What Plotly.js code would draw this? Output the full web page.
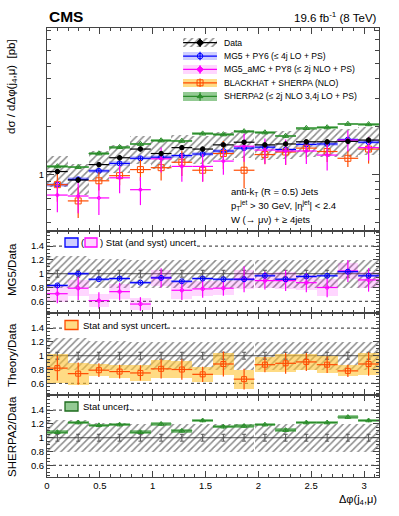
<!DOCTYPE html>
<html>
<head>
<meta charset="utf-8">
<script src="https://cdn.plot.ly/plotly-3.0.1.min.js"></script>
<style>
  html, body { margin: 0; padding: 0; background: #fff; }
  #graph { width: 399px; height: 516px; }
</style>
</head>
<body>
<div id="graph"></div>
<script>
// ---------- DATA ----------
// 16 bins in delta phi(j4, mu) from 0 to pi
const binCenters = [0.098, 0.295, 0.491, 0.687, 0.884, 1.080, 1.276, 1.473,
                    1.669, 1.865, 2.062, 2.258, 2.454, 2.651, 2.847, 3.043];
const binHalf = 0.098;

// main panel, dsigma/ddphi [pb]
const dataXsec   = [1.04, 0.92, 1.15, 1.27, 1.44, 1.35, 1.47, 1.44, 1.53, 1.59, 1.53, 1.55, 1.60, 1.60, 1.61, 1.64];
const dataStat   = [0.04, 0.04, 0.04, 0.05, 0.05, 0.05, 0.05, 0.05, 0.05, 0.05, 0.05, 0.05, 0.06, 0.06, 0.06, 0.06];
const dataSystHi = [0.26, 0.26, 0.22, 0.21, 0.20, 0.20, 0.20, 0.20, 0.20, 0.20, 0.20, 0.20, 0.20, 0.20, 0.20, 0.20];
const dataSystLo = [0.20, 0.20, 0.20, 0.20, 0.20, 0.20, 0.20, 0.20, 0.20, 0.20, 0.20, 0.20, 0.20, 0.20, 0.20, 0.20];

const mg5Xsec = [0.86, 0.93, 1.05, 1.17, 1.26, 1.28, 1.31, 1.34, 1.40, 1.46, 1.48, 1.43, 1.54, 1.55, 1.65, 1.59];
const mg5Stat = [0.03, 0.03, 0.03, 0.03, 0.03, 0.03, 0.03, 0.03, 0.03, 0.03, 0.03, 0.03, 0.03, 0.03, 0.03, 0.03];

const amcXsec = [0.74, 0.73, 0.71, 0.95, 0.80, 1.25, 1.12, 1.12, 1.21, 1.50, 1.42, 1.40, 1.40, 1.32, 1.64, 1.47];
const amcStat = [0.22, 0.22, 0.22, 0.20, 0.20, 0.18, 0.20, 0.20, 0.18, 0.20, 0.18, 0.18, 0.17, 0.20, 0.15, 0.17];

const bhXsec = [0.86, 0.68, 0.91, 0.98, 1.07, 1.10, 1.19, 1.06, 1.35, 1.06, 1.33, 1.38, 1.46, 1.39, 1.26, 1.44];
const bhStat = [0.22, 0.22, 0.13, 0.13, 0.15, 0.17, 0.18, 0.15, 0.20, 0.23, 0.13, 0.17, 0.14, 0.14, 0.12, 0.19];

const sh2Xsec = [1.12, 1.11, 1.35, 1.48, 1.55, 1.63, 1.62, 1.80, 1.78, 1.86, 1.83, 1.74, 1.95, 1.97, 2.07, 2.06];
const sh2Stat = [0.02, 0.02, 0.02, 0.02, 0.02, 0.02, 0.02, 0.02, 0.02, 0.02, 0.02, 0.02, 0.02, 0.02, 0.02, 0.02];

// ratio panels (theory / data)
const dataRatioStat = [0.05, 0.05, 0.05, 0.05, 0.05, 0.05, 0.05, 0.05, 0.05, 0.05, 0.05, 0.05, 0.05, 0.05, 0.05, 0.05];

const mg5Ratio    = [0.83, 1.00, 0.92, 0.93, 0.87, 0.94, 0.89, 0.93, 0.92, 0.92, 0.97, 0.92, 0.96, 0.97, 1.03, 0.97];
const mg5RatioErr = [0.02, 0.02, 0.02, 0.02, 0.02, 0.02, 0.02, 0.02, 0.02, 0.02, 0.02, 0.02, 0.02, 0.02, 0.02, 0.02];

const amcRatio     = [0.71, 0.79, 0.61, 0.74, 0.56, 0.94, 0.76, 0.78, 0.79, 0.92, 0.90, 0.90, 0.87, 0.80, 1.04, 0.91];
const amcRatioStat = [0.14, 0.17, 0.12, 0.13, 0.10, 0.14, 0.14, 0.13, 0.11, 0.19, 0.13, 0.15, 0.14, 0.14, 0.16, 0.17];
const amcRatioBand = [0.12, 0.12, 0.10, 0.11, 0.09, 0.12, 0.12, 0.11, 0.10, 0.14, 0.11, 0.12, 0.11, 0.12, 0.11, 0.12];

const bhRatio     = [0.82, 0.74, 0.79, 0.77, 0.75, 0.81, 0.80, 0.73, 0.88, 0.66, 0.87, 0.89, 0.91, 0.87, 0.78, 0.88];
const bhRatioStat = [0.18, 0.16, 0.10, 0.10, 0.11, 0.14, 0.15, 0.11, 0.18, 0.15, 0.11, 0.15, 0.13, 0.12, 0.09, 0.17];
const bhRatioBand = [0.21, 0.16, 0.09, 0.10, 0.11, 0.13, 0.13, 0.11, 0.16, 0.14, 0.11, 0.13, 0.12, 0.12, 0.08, 0.16];

const sh2Ratio    = [1.08, 1.22, 1.18, 1.19, 1.08, 1.20, 1.10, 1.25, 1.16, 1.17, 1.19, 1.11, 1.22, 1.22, 1.30, 1.25];
const sh2RatioErr = [0.025, 0.025, 0.025, 0.025, 0.025, 0.025, 0.025, 0.025, 0.025, 0.025, 0.025, 0.025, 0.025, 0.025, 0.025, 0.025];

const legendLabels = ["Data", "MG5 + PY6 (≤ 4j LO + PS)", "MG5_aMC + PY8 (≤ 2j NLO + PS)",
                      "BLACKHAT + SHERPA (NLO)", "SHERPA2 (≤ 2j NLO 3,4j LO + PS)"];

// ---------- STYLE ----------
const FONT = "Liberation Sans, Arial, Helvetica, sans-serif";
const BLUE = "#0000ff", BLUE_BAND = "rgba(60,60,255,0.25)";
const MAG = "#ff00ff", MAG_BAND = "rgba(255,0,255,0.16)";
const ORA = "#ff4b00", ORA_BAND = "rgba(255,195,50,0.6)";
const GRN = "#2a8c2a", GRN_BAND = "rgba(40,150,40,0.5)";
const HATCH = "#1a1a1a";

// pixel -> paper helpers (399x516 page)
const W = 399, H = 516, ML = 47, MR = 20, MT = 28, MB = 39;
const px = x => (x - ML) / (W - ML - MR);
const py = y => (H - MB - y) / (H - MT - MB);

const widths = binCenters.map(() => 2 * binHalf);
const ones = binCenters.map(() => 1);

// ---------- TRACE BUILDERS ----------
function hatchBand(xa, ya, lo, hi, color) {
  return {
    type: "bar", x: binCenters, base: lo, y: hi.map((h, i) => h - lo[i]), width: widths,
    xaxis: xa, yaxis: ya, hoverinfo: "skip", showlegend: false,
    marker: { color: "rgba(0,0,0,0)", line: { width: 0 },
      pattern: { shape: "/", fgcolor: color, bgcolor: "rgba(0,0,0,0)", size: 5, solidity: 0.3, fillmode: "overlay" } }
  };
}

function fillBand(xa, ya, lo, hi, fill) {
  return {
    type: "bar", x: binCenters, base: lo, y: hi.map((h, i) => h - lo[i]), width: widths,
    xaxis: xa, yaxis: ya, hoverinfo: "skip", showlegend: false,
    marker: { color: fill, line: { width: 0 } }
  };
}

function cross(xa, ya, y, err, color, symbol, size) {
  return {
    type: "scatter", mode: "markers", x: binCenters, y: y, xaxis: xa, yaxis: ya,
    hoverinfo: "skip", showlegend: false,
    error_x: { type: "constant", value: binHalf, width: 0, color: color, thickness: 1.2 },
    error_y: { type: "data", array: err, width: 0, color: color, thickness: 1.2 },
    marker: { symbol: symbol, size: size, color: color, line: { color: color, width: 1 } }
  };
}

function dataRatioBars(xa, ya) {
  return {
    type: "scatter", mode: "markers", x: binCenters, y: ones, xaxis: xa, yaxis: ya,
    hoverinfo: "skip", showlegend: false,
    marker: { size: 1, color: "rgba(0,0,0,0)" },
    error_y: { type: "data", array: dataRatioStat, width: 2, color: "#555", thickness: 1 }
  };
}

const rel = (v, e) => v.map((x, i) => x * e[i]);
const lower = (v, e) => v.map((x, i) => x * (1 - e[i]));
const upper = (v, e) => v.map((x, i) => x * (1 + e[i]));
const minus = (v, e) => v.map((x, i) => x - e[i]);
const plus = (v, e) => v.map((x, i) => x + e[i]);

const traces = [];

// ---------- MAIN PANEL ----------
traces.push(hatchBand("x", "y", lower(dataXsec, dataSystLo), upper(dataXsec, dataSystHi), HATCH));
traces.push(fillBand("x", "y", lower(mg5Xsec, mg5Stat), upper(mg5Xsec, mg5Stat), BLUE_BAND));
traces.push(fillBand("x", "y", lower(sh2Xsec, sh2Stat), upper(sh2Xsec, sh2Stat), GRN_BAND));
traces.push(cross("x", "y", sh2Xsec, rel(sh2Xsec, sh2Stat), GRN, "triangle-up-open", 5.5));
traces.push(cross("x", "y", mg5Xsec, rel(mg5Xsec, mg5Stat), BLUE, "circle-open", 5));
traces.push(cross("x", "y", bhXsec, rel(bhXsec, bhStat), ORA, "square-open", 6));
traces.push(cross("x", "y", amcXsec, rel(amcXsec, amcStat), MAG, "circle-open", 3));
traces.push(cross("x", "y", dataXsec, dataStat, "#000", "circle", 4.5));

// ---------- MG5 / DATA ----------
traces.push(hatchBand("x2", "y2", dataSystLo.map(e => 1 - e), dataSystHi.map(e => 1 + e), HATCH));
traces.push(fillBand("x2", "y2", minus(amcRatio, amcRatioBand), plus(amcRatio, amcRatioBand), MAG_BAND));
traces.push(fillBand("x2", "y2", minus(mg5Ratio, mg5RatioErr), plus(mg5Ratio, mg5RatioErr), BLUE_BAND));
traces.push(dataRatioBars("x2", "y2"));
traces.push(cross("x2", "y2", amcRatio, amcRatioStat, MAG, "circle-open", 3.5));
traces.push(cross("x2", "y2", mg5Ratio, mg5RatioErr, BLUE, "circle-open", 5));

// ---------- THEORY / DATA ----------
traces.push(hatchBand("x3", "y3", dataSystLo.map(e => 1 - e), dataSystHi.map(e => 1 + e), HATCH));
traces.push(fillBand("x3", "y3", minus(bhRatio, bhRatioBand), plus(bhRatio, bhRatioBand), ORA_BAND));
traces.push(dataRatioBars("x3", "y3"));
traces.push(cross("x3", "y3", bhRatio, bhRatioStat, ORA, "square-open", 5));

// ---------- SHERPA2 / DATA ----------
traces.push(hatchBand("x4", "y4", dataSystLo.map(e => 1 - e), dataSystHi.map(e => 1 + e), HATCH));
traces.push(fillBand("x4", "y4", minus(sh2Ratio, sh2RatioErr), plus(sh2Ratio, sh2RatioErr), GRN_BAND));
traces.push(dataRatioBars("x4", "y4"));
traces.push(cross("x4", "y4", sh2Ratio, sh2RatioErr, GRN, "triangle-up-open", 5));

// ---------- MAIN LEGEND (own hidden axes over the main panel) ----------
const legX = 0.461, legHalfW = 0.051, legHalfH = 0.021;
const legRows = [42.7, 56.1, 69.4, 82.8, 96.4].map(y => (231 - y) / 203);
const legStyle = [
  { color: "#000", symbol: "diamond", size: 5.5, band: null },
  { color: BLUE, symbol: "circle-open", size: 5.5, band: BLUE_BAND },
  { color: MAG, symbol: "diamond", size: 5, band: MAG_BAND },
  { color: ORA, symbol: "square-open", size: 6, band: ORA_BAND },
  { color: GRN, symbol: "triangle-up", size: 5, band: GRN_BAND }
];
legendLabels.forEach((lab, i) => {
  const s = legStyle[i], yc = legRows[i];
  traces.push({
    type: "bar", x: [legX], base: [yc - legHalfH], y: [2 * legHalfH], width: [2 * legHalfW],
    xaxis: "x5", yaxis: "y5", hoverinfo: "skip", showlegend: false,
    marker: s.band ? { color: s.band, line: { width: 0 } }
      : { color: "rgba(0,0,0,0)", line: { width: 0 },
          pattern: { shape: "/", fgcolor: HATCH, bgcolor: "rgba(0,0,0,0)", size: 5, solidity: 0.3, fillmode: "overlay" } }
  });
  traces.push({
    type: "scatter", mode: "markers", x: [legX], y: [yc], xaxis: "x5", yaxis: "y5",
    hoverinfo: "skip", showlegend: false,
    error_x: { type: "constant", value: legHalfW, width: 0, color: s.color, thickness: 1.2 },
    error_y: { type: "constant", value: legHalfH, width: 0, color: s.color, thickness: 1.2 },
    marker: { symbol: s.symbol, size: s.size, color: s.color, line: { color: s.color, width: 1 } }
  });
});

// ---------- AXES ----------
const frame = { showline: true, linecolor: "#444", linewidth: 1, mirror: "allticks", zeroline: false, showgrid: false };
function xAxis(anchor, labels) {
  return Object.assign({}, frame, {
    anchor: anchor, range: [0, Math.PI], ticks: "inside", ticklen: 6, tickcolor: "#444",
    tickmode: "array", tickvals: [0, 0.5, 1, 1.5, 2, 2.5, 3],
    showticklabels: labels, tickfont: { family: FONT, size: 9.5, color: "#000" },
    minor: { ticks: "inside", ticklen: 3, dtick: 0.1, tick0: 0, tickcolor: "#444" }
  });
}
function ratioAxis(domain, anchor) {
  return Object.assign({}, frame, {
    domain: domain, anchor: anchor, range: [0.43, 1.62], ticks: "inside", ticklen: 6, tickcolor: "#444",
    tickmode: "array", tickvals: [0.6, 0.8, 1, 1.2, 1.4], ticktext: ["0.6", "0.8", "1", "1.2", "1.4"],
    tickfont: { family: FONT, size: 9.5, color: "#000" },
    minor: { ticks: "inside", ticklen: 3, dtick: 0.05, tick0: 0, tickcolor: "#444" }
  });
}

const mainMinorTicks = [0.5, 0.6, 0.7, 0.8, 0.9, 2, 3, 4, 5, 6, 7, 8];

const dMain = [py(231), 1], d2 = [py(313), py(231)], d3 = [py(395), py(313)], d4 = [0, py(395)];

// ---------- SHAPES ----------
const shapes = [];
["y2", "y3", "y4"].forEach(ya => {
  shapes.push({ type: "line", xref: "paper", x0: 0, x1: 1, yref: ya, y0: 1, y1: 1, layer: "below", line: { color: "#555", width: 1 } });
  [0.6, 1.4].forEach(v => shapes.push({ type: "line", xref: "paper", x0: 0, x1: 1, yref: ya, y0: v, y1: v, layer: "below",
    line: { color: "#555", width: 1.2, dash: "dot" } }));
});
function pbox(x0, x1, yc, fill, line) {
  return { type: "rect", xref: "paper", yref: "paper", x0: px(x0), x1: px(x1), y0: py(yc + 4.5), y1: py(yc - 4.5),
    fillcolor: fill, line: { color: line, width: 1.3 }, layer: "above" };
}
function whiteRect(x0, x1, yc) {
  return { type: "rect", xref: "paper", yref: "paper", x0: px(x0), x1: px(x1), y0: py(yc + 5.5), y1: py(yc - 5.5),
    fillcolor: "#fff", line: { width: 0 }, layer: "above" };
}
shapes.push(whiteRect(63, 194, 242.5), pbox(65, 78, 242.5, BLUE_BAND, BLUE), pbox(85, 97, 242.5, MAG_BAND, MAG));
shapes.push(whiteRect(63, 164, 325), pbox(65, 78, 325, ORA_BAND, ORA));
shapes.push(whiteRect(63, 126, 406.5), pbox(65, 78, 406.5, GRN_BAND, "#1d6b1d"));

// ---------- TEXT ----------
function note(text, x, y, opts) {
  return Object.assign({ text: text, x: x, y: y, xref: "paper", yref: "paper", showarrow: false,
    xanchor: "left", yanchor: "middle", font: { family: FONT, size: 9.5, color: "#000" } }, opts || {});
}
const annotations = [
  note("<b>CMS</b>", 0, py(17), { font: { family: FONT, size: 15.5, color: "#000" } }),
  note("19.6 fb<sup>-1</sup> (8 TeV)", 1, py(17), { xanchor: "right", font: { family: FONT, size: 11.5, color: "#000" } }),
  note("dσ / dΔφ(j<sub>4</sub>,μ)  [pb]", px(12), py(87), { xanchor: "center", textangle: -90, font: { family: FONT, size: 11.5, color: "#000" } }),
  note("MG5/Data", px(12), py(270), { xanchor: "center", textangle: -90, font: { family: FONT, size: 11.5, color: "#000" } }),
  note("Theory/Data", px(12), py(355), { xanchor: "center", textangle: -90, font: { family: FONT, size: 11.5, color: "#000" } }),
  note("SHERPA2/Data", px(12), py(437), { xanchor: "center", textangle: -90, font: { family: FONT, size: 11.5, color: "#000" } }),
  note("Δφ(j<sub>4</sub>,μ)", 1, py(500), { xanchor: "right", font: { family: FONT, size: 11, color: "#000" } }),
  note("anti-k<sub>T</sub> (R = 0.5) Jets", px(229), py(191.5)),
  note("p<sub>T</sub><sup>jet</sup> > 30 GeV, |η<sup>jet</sup>| < 2.4", px(229), py(206)),
  note("W (→ μν) + ≥ 4jets", px(229), py(219.5)),
  note("(", px(79), py(242.5), { xanchor: "left" }),
  note(") Stat (and syst) uncert", px(97.5), py(242.5)),
  note("Stat and syst uncert", px(81), py(325)),
  note("Stat uncert.", px(81), py(406.5))
];
legendLabels.forEach((lab, i) => annotations.push(
  note(lab, px(222), py(231 - legRows[i] * 203), { font: { family: FONT, size: 8.6, color: "#000" } })));

const layout = {
  width: W, height: H, margin: { l: ML, r: MR, t: MT, b: MB, pad: 0 },
  paper_bgcolor: "#fff", plot_bgcolor: "rgba(0,0,0,0)",
  barmode: "overlay", bargap: 0, showlegend: false,
  font: { family: FONT, size: 9.5, color: "#000" },
  xaxis: xAxis("y", false),
  xaxis2: xAxis("y2", false),
  xaxis3: xAxis("y3", false),
  xaxis4: xAxis("y4", true),
  yaxis: Object.assign({}, frame, {
    domain: dMain, anchor: "x", type: "log", range: [Math.log10(0.44), Math.log10(8.3)],
    ticks: "inside", ticklen: 7, tickcolor: "#444",
    tickmode: "array", tickvals: [1], ticktext: ["1"],
    tickfont: { family: FONT, size: 9.5, color: "#000" },
    minor: { ticks: "inside", ticklen: 4, tickmode: "array", tickvals: mainMinorTicks, tickcolor: "#444" }
  }),
  yaxis2: ratioAxis(d2, "x2"),
  yaxis3: ratioAxis(d3, "x3"),
  yaxis4: ratioAxis(d4, "x4"),
  xaxis5: { overlaying: "x", anchor: "y5", range: [0, 1], visible: false },
  yaxis5: { overlaying: "y", anchor: "x5", range: [0, 1], visible: false },
  shapes: shapes,
  annotations: annotations
};

Plotly.newPlot("graph", traces, layout, { staticPlot: true, displayModeBar: false });
</script>
</body>
</html>
